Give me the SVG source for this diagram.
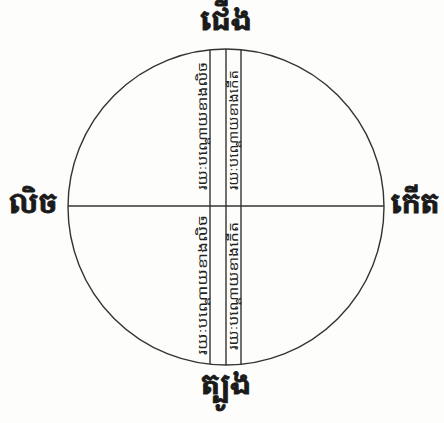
<svg xmlns="http://www.w3.org/2000/svg" width="444" height="423" viewBox="0 0 444 423">
<style>
.dir{font-family:"Noto Serif Khmer","Noto Sans Khmer","Khmer OS","Noto Sans",sans-serif;font-weight:bold;font-size:28px;fill:#1a1a1a;stroke:#1a1a1a;stroke-width:0.8;text-anchor:middle}
.lbl{font-family:"Noto Sans Khmer","Khmer OS","Noto Sans",sans-serif;font-size:13px;fill:#222}
.ln{stroke:#333;stroke-width:1.4;fill:none}
</style>
<rect width="444" height="423" fill="#fdfdfb"/>
<g id="connectors">
<circle class="ln" cx="226" cy="207" r="158"/>
<line class="ln" x1="68" y1="206" x2="384" y2="206"/>
<line class="ln" x1="210" y1="50" x2="210" y2="364"/>
<line class="ln" x1="226" y1="49" x2="226" y2="365"/>
<line class="ln" x1="241" y1="50" x2="241" y2="364"/>
</g>
<g id="north"><text class="dir" x="226" y="30">ជើង</text></g>
<g id="south"><text class="dir" x="226" y="394">ត្បូង</text></g>
<g id="west"><text class="dir" x="33" y="213">លិច</text></g>
<g id="east"><text class="dir" x="415" y="213">កើត</text></g>
<g id="west-north"><text class="lbl" textLength="128" lengthAdjust="spacingAndGlyphs" transform="translate(207,190) rotate(-90)">រយៈបណ្តោយខាងលិច</text></g>
<g id="east-north"><text class="lbl" textLength="120" lengthAdjust="spacingAndGlyphs" transform="translate(238,190) rotate(-90)">រយៈបណ្តោយខាងកើត</text></g>
<g id="west-south"><text class="lbl" textLength="140" lengthAdjust="spacingAndGlyphs" transform="translate(207,355) rotate(-90)">រយៈបណ្តោយខាងលិច</text></g>
<g id="east-south"><text class="lbl" textLength="128" lengthAdjust="spacingAndGlyphs" transform="translate(238,350) rotate(-90)">រយៈបណ្តោយខាងកើត</text></g>
</svg>
